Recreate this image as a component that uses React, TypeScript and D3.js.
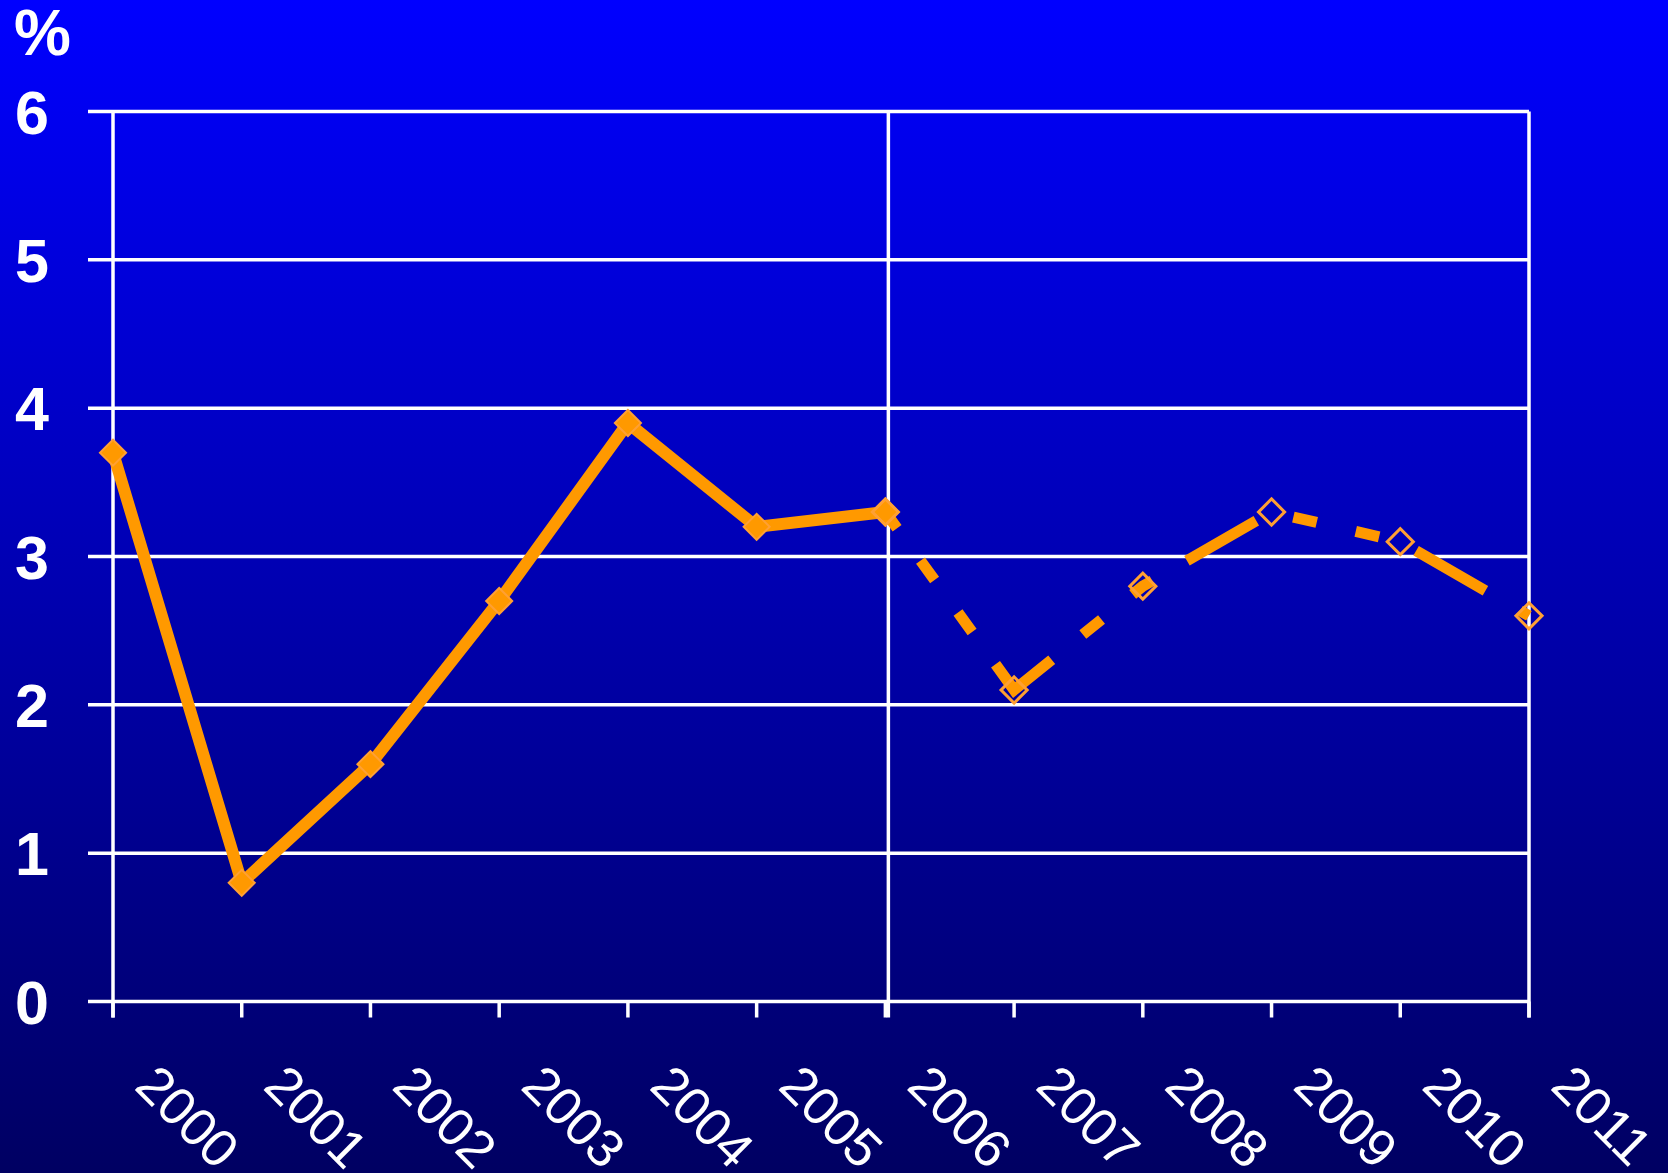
import React from 'react';
import * as d3 from 'd3';

// categories and values
const years = ['2000', '2001', '2002', '2003', '2004', '2005', '2006', '2007', '2008', '2009', '2010', '2011'];
const actualYears = ['2000', '2001', '2002', '2003', '2004', '2005', '2006'];
const actualValues = [3.7, 0.8, 1.6, 2.7, 3.9, 3.2, 3.3];
const forecastYears = ['2006', '2007', '2008', '2009', '2010', '2011'];
const forecastValues = [3.3, 2.1, 2.8, 3.3, 3.1, 2.6];
const yTicks = [0, 1, 2, 3, 4, 5, 6];
const dividerYear = '2006';

const W = 1668;
const H = 1173;
const margin = { top: 111.5, right: 139, bottom: 171.5, left: 113 };
const font = '"Liberation Sans", Arial, Helvetica, sans-serif';
const ORANGE = '#FF9900';
const MARKER_EDGE = '#FFA033';

const App = () => {
  const x = d3.scalePoint<string>()
    .domain(years)
    .range([margin.left, W - margin.right]);

  const y = d3.scaleLinear()
    .domain([0, 6])
    .range([H - margin.bottom, margin.top]);

  const actual = actualYears.map((yr, i) => ({ year: yr, value: actualValues[i] }));
  const forecast = forecastYears.map((yr, i) => ({ year: yr, value: forecastValues[i] }));

  const line = d3.line<{ year: string; value: number }>()
    .x(d => x(d.year) as number)
    .y(d => y(d.value));

  const diamond = d3.symbol(d3.symbolSquare, 340)() as string;

  const x0 = x.range()[0];
  const x1 = x.range()[1];
  const yBottom = y(0);
  const yTop = y(6);

  return (
    <svg width={W} height={H} style={{ position: 'absolute', left: 0, top: 0, display: 'block' }}>
      <defs>
        <linearGradient id="bg" x1="0" y1="0" x2="0" y2="1">
          <stop offset="0%" stopColor="#0000FF" />
          <stop offset="100%" stopColor="#000062" />
        </linearGradient>
      </defs>
      <rect x={0} y={0} width={W} height={H} fill="url(#bg)" />

      {/* horizontal grid lines with ticks on the left */}
      {yTicks.map(t => (
        <line key={'g' + t} x1={x0 - 25} x2={x1} y1={y(t)} y2={y(t)} stroke="#fff" strokeWidth={3.5} />
      ))}

      {/* vertical lines: axis, divider, right border */}
      {[years[0], dividerYear, years[years.length - 1]].map(yr => (
        <line key={'v' + yr} x1={(x(yr) as number) + (yr === dividerYear ? 3 : 0)} x2={(x(yr) as number) + (yr === dividerYear ? 3 : 0)} y1={yTop} y2={yBottom + 16} stroke="#fff" strokeWidth={3.5} />
      ))}

      {/* x ticks */}
      {years.map(yr => (
        <line key={'t' + yr} x1={x(yr)} x2={x(yr)} y1={yBottom} y2={yBottom + 16} stroke="#fff" strokeWidth={3.5} />
      ))}

      {/* y labels */}
      {yTicks.map(t => (
        <text key={'yl' + t} x={15} y={y(t) + 22} fill="#fff" fontFamily={font} fontWeight="bold" fontSize={61}>
          {t}
        </text>
      ))}
      <text x={14} y={55} fill="#fff" fontFamily={font} fontWeight="bold" fontSize={64}>%</text>

      {/* x labels, rotated */}
      {years.map(yr => (
        <text
          key={'xl' + yr}
          transform={`translate(${(x(yr) as number) + 20},1088) rotate(45)`}
          fill="#fff"
          fontFamily={font}
          fontSize={53}
        >
          {yr}
        </text>
      ))}

      {/* actual series */}
      <path d={line(actual) as string} fill="none" stroke={ORANGE} strokeWidth={12} strokeLinejoin="miter" />

      {/* forecast series */}
      <path
        d={line(forecast) as string}
        fill="none"
        stroke={ORANGE}
        strokeWidth={11}
        strokeDasharray="80 40 24 40 24 40"
        strokeDashoffset={60}
      />

      {actual.map(d => (
        <path
          key={'m' + d.year}
          d={diamond}
          transform={`translate(${x(d.year)},${y(d.value)}) rotate(45)`}
          fill={ORANGE}
          stroke={MARKER_EDGE}
          strokeWidth={2}
        />
      ))}

      {forecast.map(d => (
        <path
          key={'f' + d.year}
          d={diamond}
          transform={`translate(${x(d.year)},${y(d.value)}) rotate(45)`}
          fill="none"
          stroke={MARKER_EDGE}
          strokeWidth={3}
        />
      ))}
    </svg>
  );
};

export default App;
